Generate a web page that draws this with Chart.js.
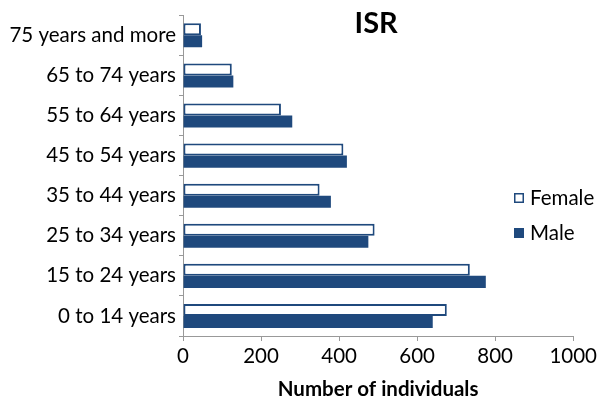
<!DOCTYPE html>
<html>
<head>
<meta charset="utf-8">
<script src="https://cdn.jsdelivr.net/npm/chart.js@4/dist/chart.umd.min.js"></script>
<style>
  html, body { margin: 0; padding: 0; background: #fff; }
  #wrap { width: 600px; height: 402px; }
</style>
</head>
<body>
<div id="wrap"><canvas id="c" width="600" height="402"></canvas></div>
<script>
// Age groups, listed top to bottom
const ageGroups = ['75 years and more', '65 to 74 years', '55 to 64 years', '45 to 54 years',
                   '35 to 44 years', '25 to 34 years', '15 to 24 years', '0 to 14 years'];
const female = [46, 125, 251, 411, 350, 491, 735, 676];
const male   = [49, 129, 280, 420, 379, 475, 776, 640];
const xTicks = [0, 200, 400, 600, 800, 1000];

const NAVY = '#1F497D';
const FONT = 'Lato, "Open Sans", sans-serif';
const SIZE = 20.5;

// Chart heading and legend are painted over the plot area
const overlay = {
  id: 'overlay',
  afterDraw(chart) {
    const ctx = chart.ctx;
    const area = chart.chartArea;
    ctx.save();
    ctx.fillStyle = '#000';
    ctx.font = 'bold 29px ' + FONT;
    ctx.textAlign = 'center';
    ctx.textBaseline = 'middle';
    ctx.fillText('ISR', (area.left + area.right) / 2 - 2, 24);

    const items = chart.data.datasets;
    ctx.font = SIZE + 'px ' + FONT;
    ctx.textAlign = 'left';
    items.forEach((ds, i) => {
      const y = 198 + i * 35;
      const x = 514;
      if (ds.backgroundColor === '#FFFFFF') {
        ctx.fillStyle = '#fff';
        ctx.fillRect(x, y - 5, 10, 10);
        ctx.strokeStyle = NAVY;
        ctx.lineWidth = 1.5;
        ctx.strokeRect(x + 0.75, y - 4.25, 8.5, 8.5);
      } else {
        ctx.fillStyle = NAVY;
        ctx.fillRect(x, y - 5, 10, 10);
      }
      ctx.fillStyle = '#000';
      ctx.fillText(ds.label, x + 16, y);
    });
    ctx.restore();
  }
};

new Chart(document.getElementById('c'), {
  type: 'bar',
  data: {
    labels: ageGroups,
    datasets: [
      { label: 'Female', data: female, backgroundColor: '#FFFFFF', borderColor: NAVY,
        borderWidth: 2, borderSkipped: false },
      { label: 'Male', data: male, backgroundColor: NAVY, borderColor: NAVY, borderWidth: 0 }
    ]
  },
  options: {
    indexAxis: 'y',
    responsive: false,
    animation: false,
    layout: { padding: { top: 10, right: 22, left: 0, bottom: 0 } },
    datasets: { bar: { categoryPercentage: 0.6, barPercentage: 1.0 } },
    plugins: {
      legend: { display: false },
      tooltip: { enabled: false }
    },
    scales: {
      x: {
        min: 0, max: 1000,
        afterBuildTicks(s) { s.ticks = xTicks.map(v => ({ value: v })); },
        afterFit(s) { s.height = 66; },
        border: { color: '#999', width: 1 },
        grid: { drawOnChartArea: false, tickLength: 5, color: '#999' },
        ticks: { font: { family: FONT, size: SIZE }, color: '#000', padding: 3,
                 callback: v => String(v) },
        title: { display: true, text: 'Number of individuals',
                 font: { family: FONT, size: SIZE, weight: 'bold' }, color: '#000',
                 padding: { top: 2, bottom: 0 } }
      },
      y: {
        afterFit(s) { s.width = 183; },
        border: { color: '#999', width: 1 },
        grid: { drawOnChartArea: false, tickLength: 4, color: '#999', offset: true },
        ticks: { font: { family: FONT, size: SIZE }, color: '#000', padding: 3 }
      }
    }
  },
  plugins: [overlay]
});
</script>
</body>
</html>
